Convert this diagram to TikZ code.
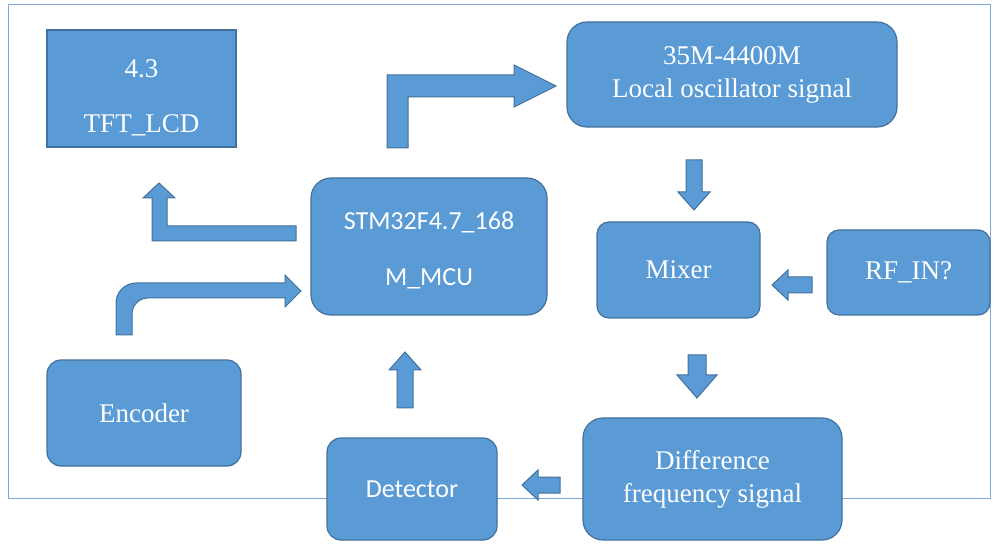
\documentclass[tikz,border=0pt]{standalone}
\usepackage{fontspec}
\setmainfont{Liberation Serif}
\newfontfamily\sansf{Carlito}
\definecolor{boxfill}{HTML}{5B9BD5}
\definecolor{boxline}{HTML}{41719C}
\definecolor{frameline}{HTML}{7FA8D8}
\begin{document}
\begin{tikzpicture}[x=1pt,y=-1pt,
  blk/.style={draw=boxline,fill=boxfill,line width=1.2pt,text=white,font=\fontsize{27}{33}\selectfont,align=center,inner sep=0pt},
  rblk/.style={blk,rounded corners=20pt},
  sans/.style={font=\sansf\fontsize{26}{32}\selectfont},
  barrow/.style={draw=boxline,fill=boxfill,line width=1pt}]
\useasboundingbox (0,0) rectangle (994,553);
\draw[frameline,line width=1pt] (8,5) rectangle (990,498);
% boxes
\node[blk,minimum width=189,minimum height=117] (lcd) at (141.5,88.5) {};
\node[text=white,font=\fontsize{27}{33}\selectfont] (lcd1) at (141.5,69) {4.3};
\node[text=white,font=\fontsize{27}{33}\selectfont] (lcd2) at (141.5,125) {TFT\_LCD};
\node[rblk,minimum width=330,minimum height=105] (lo) at (732,74.5) {35M-4400M\\Local oscillator signal};
\node[rblk,minimum width=236,minimum height=137] (mcu) at (429,246.5) {};
\node[text=white,sans] (mcu1) at (429,222) {STM32F4.7\_168};
\node[text=white,sans] (mcu2) at (429,279) {M\_MCU};
\node[rblk,rounded corners=12pt,minimum width=163,minimum height=96] (mix) at (678.5,270) {Mixer};
\node[rblk,rounded corners=12pt,minimum width=163,minimum height=85] (rf) at (908.5,272.5) {RF\_IN?};
\node[rblk,rounded corners=14pt,minimum width=194,minimum height=106] (enc) at (144,413) {Encoder};
\node[rblk,rounded corners=14pt,minimum width=170,minimum height=102,sans] (det) at (412,489) {Detector};
\node[rblk,minimum width=259,minimum height=122] (diff) at (712.5,479) {Difference\\frequency signal};
% block arrows
\draw[barrow] (387,148) -- (387,75) -- (514,75) -- (514,65) -- (556,86) -- (514,107) -- (514,97) -- (408,97) -- (408,148) -- cycle;
\draw[barrow] (296,226) -- (167,226) -- (167,198) -- (175,198) -- (159,183) -- (143,198) -- (152,198) -- (152,241) -- (296,241) -- cycle;
\draw[barrow] (116,335) -- (116,303) arc (180:270:20) -- (285,283) -- (285,275) -- (301,291) -- (285,307) -- (285,298) -- (148,298) arc (270:180:16) -- (132,335) -- cycle;
\draw[barrow] (686,160) -- (702,160) -- (702,192) -- (710,192) -- (694,210) -- (678,192) -- (686,192) -- cycle;
\draw[barrow] (812,277) -- (812,293) -- (788,293) -- (788,300) -- (772,285) -- (788,270) -- (788,277) -- cycle;
\draw[barrow] (688,355) -- (706,355) -- (706,375) -- (717,375) -- (697,398) -- (677,375) -- (688,375) -- cycle;
\draw[barrow] (560,477) -- (560,493) -- (538,493) -- (538,500) -- (522,485) -- (538,470) -- (538,477) -- cycle;
\draw[barrow] (397,408) -- (413,408) -- (413,370) -- (421,370) -- (405,352) -- (389,370) -- (397,370) -- cycle;
\end{tikzpicture}
\end{document}
